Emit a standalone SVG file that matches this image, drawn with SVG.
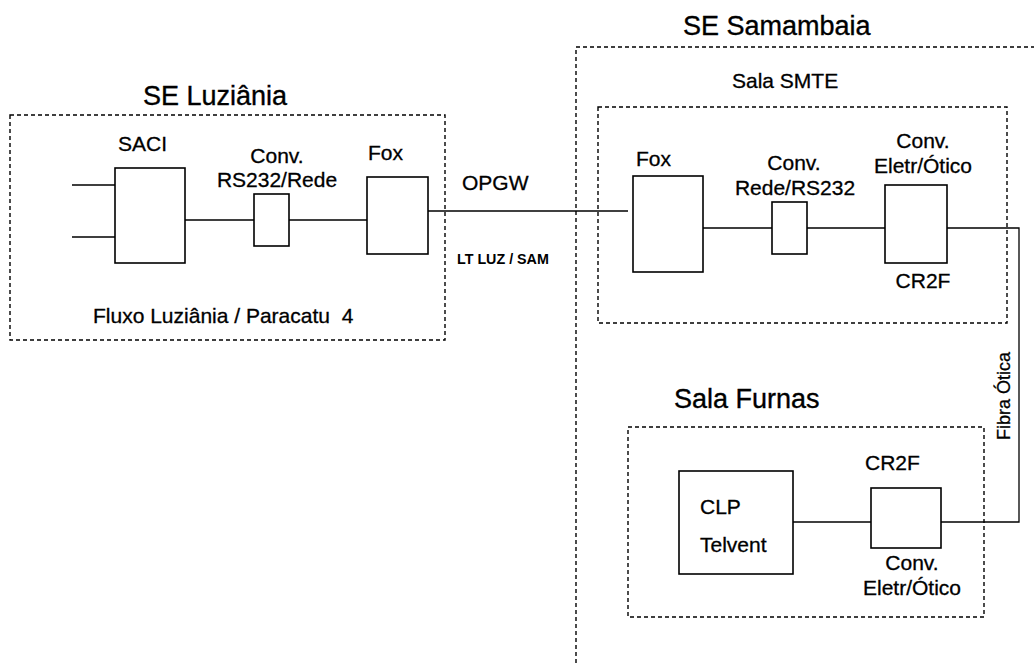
<svg xmlns="http://www.w3.org/2000/svg" width="1034" height="666" viewBox="0 0 1034 666">
<style>
text{font-family:"Liberation Sans",Arial,sans-serif;fill:#000;font-size:21px;stroke:#000;stroke-width:0.3;white-space:pre}
.t{font-size:27px;stroke-width:0.35}
.s{font-size:14.3px;font-weight:bold;stroke-width:0}
.f{font-size:18px}
.m{text-anchor:middle}
.box{fill:#fff;stroke:#000;stroke-width:1.6}
.area{fill:none;stroke:#000;stroke-width:1.4;stroke-dasharray:4 3}
.ln{fill:none;stroke:#000;stroke-width:1.3}
</style>
<rect width="1034" height="666" fill="#fff"/>
<g id="se-luziania">
<rect class="area" x="10" y="115" width="435" height="225"/>
<text class="t" x="143" y="105">SE Luziânia</text>
<text x="93" y="323" xml:space="preserve">Fluxo Luziânia / Paracatu  4</text>
</g>
<g id="se-samambaia">
<rect class="area" x="576" y="47" width="480" height="640"/>
<text class="t" x="683" y="35">SE Samambaia</text>
</g>
<g id="sala-smte">
<rect class="area" x="598" y="107" width="409" height="216"/>
<text x="732" y="88">Sala SMTE</text>
</g>
<g id="sala-furnas">
<rect class="area" x="628" y="427" width="356" height="190"/>
<text class="t" x="674" y="408">Sala Furnas</text>
</g>
<g id="connectors">
<path class="ln" d="M72 185H115M72 237H115"/>
<path class="ln" d="M185 220H254M289 220H367"/>
<path class="ln" d="M428 211H628"/>
<path class="ln" d="M703 228H772M807 228H885"/>
<path class="ln" d="M945 228H1019V522H941"/>
<path class="ln" d="M793 522H871"/>
<text class="s" x="457" y="264">LT LUZ / SAM</text>
<text x="462" y="190">OPGW</text>
<text class="f m" transform="translate(1010 396) rotate(-90)">Fibra Ótica</text>
</g>
<g id="saci">
<rect class="box" x="115" y="168" width="70" height="95"/>
<text x="118" y="151">SACI</text>
</g>
<g id="conv-rs232-rede">
<rect class="box" x="254" y="194" width="35" height="52"/>
<text class="m" x="277" y="163">Conv.</text>
<text class="m" x="277" y="187">RS232/Rede</text>
</g>
<g id="fox-luz">
<rect class="box" x="367" y="177" width="61" height="77"/>
<text x="368" y="160">Fox</text>
</g>
<g id="fox-sam">
<rect class="box" x="633" y="176" width="70" height="96"/>
<text x="636" y="166">Fox</text>
</g>
<g id="conv-rede-rs232">
<rect class="box" x="772" y="202" width="35" height="52"/>
<text class="m" x="794" y="170">Conv.</text>
<text class="m" x="795" y="195">Rede/RS232</text>
</g>
<g id="conv-eletr-smte">
<rect class="box" x="885" y="185" width="62" height="78"/>
<text class="m" x="923" y="148">Conv.</text>
<text class="m" x="923" y="173">Eletr/Ótico</text>
<text class="m" x="923" y="288">CR2F</text>
</g>
<g id="clp">
<rect class="box" x="679" y="471" width="114" height="103"/>
<text x="700" y="514">CLP</text>
<text x="700" y="552">Telvent</text>
</g>
<g id="cr2f-furnas">
<rect class="box" x="871" y="488" width="70" height="60"/>
<text x="865" y="470">CR2F</text>
<text class="m" x="912" y="570">Conv.</text>
<text class="m" x="912" y="595">Eletr/Ótico</text>
</g>
</svg>
